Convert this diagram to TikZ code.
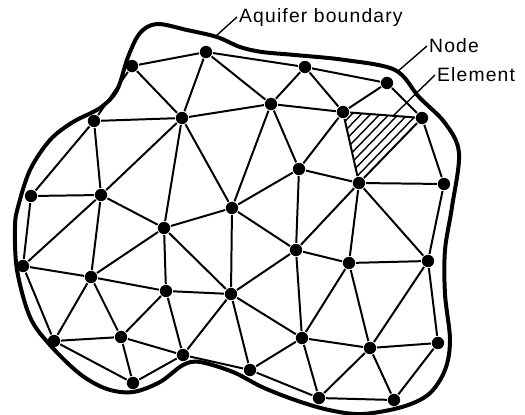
\documentclass[tikz,border=0pt]{standalone}
\usepackage{fontspec}
\setsansfont[LetterSpace=6]{Liberation Sans}
\usetikzlibrary{calc}
\tikzset{
  every picture/.style={font=\sffamily, line width=1.7pt},
  dot/.style={circle, fill=black, draw=none, inner sep=0pt, minimum size=0.37cm},
  border/.style={line width=3.4pt, line join=round},
  hatch/.style={line width=1.2pt},
  leader/.style={line width=1.2pt},
  label/.style={font=\sffamily\fontsize{16.5}{18}\selectfont, anchor=west, inner sep=1pt},
}

\begin{document}
\begin{tikzpicture}[x=0.03cm, y=-0.03cm]
  \useasboundingbox (0,0) rectangle (525,415);
  % Aquifer boundary
  \draw[border] plot[smooth cycle, tension=0.55] coordinates {
    (157,24) (187,30) (217,37) (240,47) (262,52) (295,55) (345,60) (395,70)
    (419,97) (445,123) (459,153) (452,207) (445,250) (445,294) (450,340) (445,370)
    (429,394) (402,407) (362,414) (329,410) (295,400) (262,387) (233,372) (200,362)
    (183,365) (160,382) (133,392) (107,389) (80,374) (50,345) (30,317) (17,270)
    (15,227) (18,207) (30,170) (50,140) (73,122) (100,108) (117,90) (128,57) (140,33)};
  % Nodes
  \foreach \name/\x/\y in {a/132/66, b/206/52, c/94/121, d/182/118, e/31/196, f/101/195,
    g/232/208, h/305/67, i/387/83, j/271/104, k/343/112, l/422/118, m/299/169, n/359/183,
    o/444/184, p/164/228, q/23/266, r/91/277, s/166/291, t/231/294, u/54/341, v/121/337,
    w/183/355, x/133/383, y/250/370, z/296/250, aa/349/263, bb/428/261, cc/302/338,
    dd/370/348, ee/438/343, ff/319/398, gg/394/400}{
    \node[dot] (\name) at (\x,\y) {};
  }
  % Elements
  \foreach \from/\to in {a/b,a/c,a/d,b/h,b/d,b/j,c/d,c/e,c/f,d/f,d/j,d/g,d/p,e/f,e/q,f/p,
    f/r,f/q,g/j,g/m,g/p,g/t,g/z,h/i,h/j,h/k,i/k,i/l,j/k,j/m,k/l,k/m,k/n,l/n,l/o,m/n,m/z,
    n/o,n/z,n/aa,n/bb,o/bb,p/r,p/s,p/t,q/r,q/u,r/s,r/u,r/v,s/t,s/v,s/w,t/w,t/y,t/z,t/cc,
    u/v,u/x,v/x,v/w,w/x,w/y,y/cc,y/ff,z/aa,z/cc,aa/bb,aa/cc,aa/dd,bb/ee,bb/dd,cc/dd,cc/ff,
    dd/ee,dd/ff,dd/gg,ee/gg,ff/gg}{
    \draw (\from) -- (\to);
  }
  % Shaded element
  \foreach \t in {0.13,0.24,...,0.92}{
    \draw[hatch] ($(k)!\t!(l)$) -- ($(k)!\t!(n)$);
  }
  % Labels
  \node[label] (lbound) at (237,17) {Aquifer boundary};
  \node[label] (lnode) at (427,46) {Node};
  \node[label] (lelem) at (435,75) {Element};
  \coordinate (pbound) at (216,36);
  \coordinate (pnode) at (397,72);
  \coordinate (pelem) at (393,116);
  \draw[leader] (lbound.west) -- (pbound);
  \draw[leader] (lnode.west) -- (pnode);
  \draw[leader] (lelem.west) -- (pelem);
\end{tikzpicture}
\end{document}
